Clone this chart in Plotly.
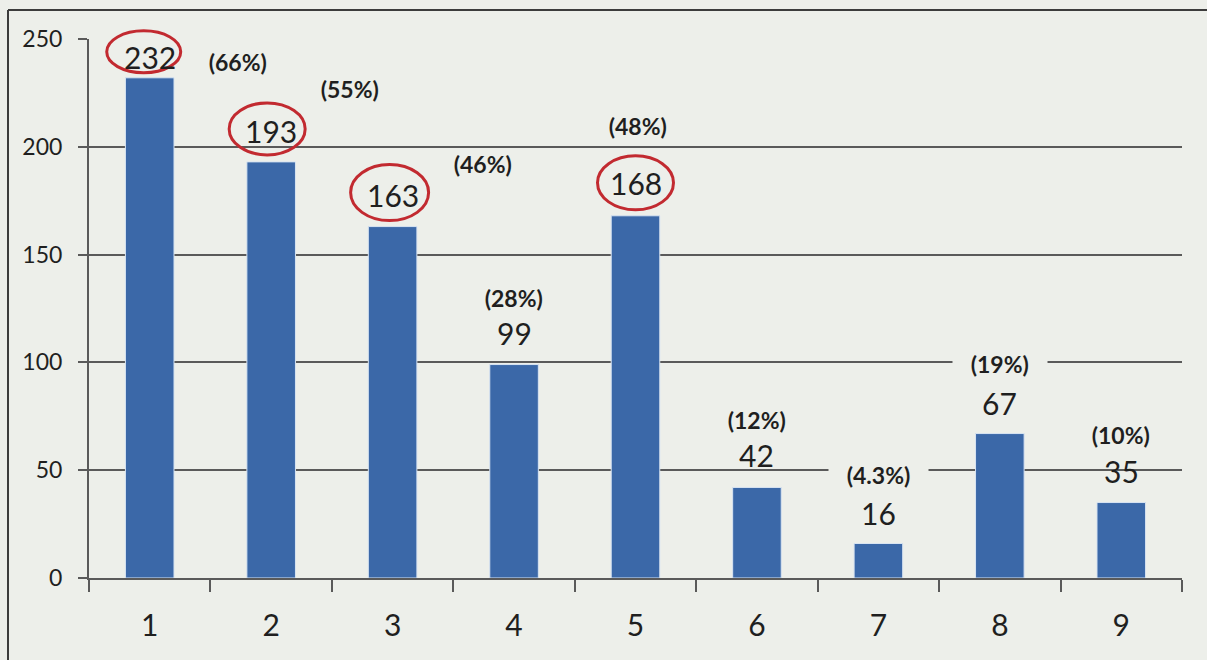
import plotly.graph_objects as go

# Survey counts per item, with the share of respondents in brackets
categories = [1, 2, 3, 4, 5, 6, 7, 8, 9]
counts = [232, 193, 163, 99, 168, 42, 16, 67, 35]
shares = ["(66%)", "(55%)", "(46%)", "(28%)", "(48%)", "(12%)", "(4.3%)", "(19%)", "(10%)"]
highlighted = [1, 2, 3, 5]
y_ticks = [0, 50, 100, 150, 200, 250]
x_range = [0.5, 9.5]
y_range = [0, 250]

# label placement (pixel offsets from the top of each bar)
value_dy = [21, 31, 32, 32, 33, 32, 31, 31, 32]
share_dx = [88, 79, 90, 0, 2, 0, 0, 0, 0]
share_dy = [16, 73, 63, 67, 90, 67, 69, 70, 68]
ring = {1: (-6, 26, 74, 42), 2: (-4, 33, 76, 52), 3: (-3, 34, 78, 56), 5: (0, 33, 76, 54)}

W, H = 1207, 660
ML, MR, MT, MB = 89, 25, 39, 82
BG = "#edefea"
INK = "#1f1f1f"
GRID = "#5a5a5a"
FONT = "Lato, 'Open Sans', sans-serif"
PAD = "&nbsp;" * 3

fig = go.Figure(
    go.Bar(
        x=categories,
        y=counts,
        width=0.4,
        marker=dict(color="#3b68a8", line=dict(color="#d8e4f2", width=1)),
        hoverinfo="skip",
    )
)

annotations = []
for i, (c, v, s) in enumerate(zip(categories, counts, shares)):
    annotations.append(dict(
        x=c, y=v, xref="x", yref="y", text=str(v), showarrow=False,
        yshift=value_dy[i], yanchor="middle",
        font=dict(size=30, color=INK, family=FONT),
    ))
    # share labels sit on a background-coloured box that interrupts gridlines
    annotations.append(dict(
        x=c, y=v, xref="x", yref="y", text=f"{PAD}<b>{s}</b>{PAD}", showarrow=False,
        xshift=share_dx[i], yshift=share_dy[i], yanchor="middle",
        font=dict(size=23, color=INK, family=FONT),
        bgcolor=BG, borderpad=0,
    ))


def to_paper_x(c):
    return (c - x_range[0]) / (x_range[1] - x_range[0])


def to_paper_y(v):
    return (v - y_range[0]) / (y_range[1] - y_range[0])


# red rings around the leading counts (paper-referenced so they are not clipped)
shapes = []
for c in highlighted:
    dx, dy, w, h = ring[c]
    v = counts[categories.index(c)]
    shapes.append(dict(
        type="circle", xref="paper", yref="paper",
        xsizemode="pixel", ysizemode="pixel",
        xanchor=to_paper_x(c), yanchor=to_paper_y(v),
        x0=dx - w / 2, x1=dx + w / 2, y0=dy - h / 2, y1=dy + h / 2,
        line=dict(color="#c22a30", width=3),
    ))

# outer frame around the whole chart
pw = W - ML - MR
ph = H - MT - MB
fx = (8 - ML) / pw
fy_top = 1 + (MT - 10) / ph
fy_bot = -(MB + 5) / ph
shapes.append(dict(type="line", xref="paper", yref="paper",
                   x0=fx, x1=fx, y0=fy_bot, y1=fy_top,
                   line=dict(color="#3c3c3c", width=2)))
shapes.append(dict(type="line", xref="paper", yref="paper",
                   x0=fx, x1=1 + (MR + 5) / pw, y0=fy_top, y1=fy_top,
                   line=dict(color="#3c3c3c", width=2)))

fig.update_layout(
    width=W, height=H,
    margin=dict(l=ML, r=MR, t=MT, b=MB),
    paper_bgcolor=BG, plot_bgcolor=BG,
    showlegend=False,
    annotations=annotations,
    shapes=shapes,
    font=dict(family=FONT, color=INK),
    xaxis=dict(
        range=x_range,
        tickvals=categories,
        ticktext=[str(c) for c in categories],
        ticks="",
        tickfont=dict(size=30, color=INK, family=FONT),
        ticklabelstandoff=20,
        showgrid=False,
        zeroline=False,
        showline=True, linecolor=GRID, linewidth=2,
        minor=dict(
            tickvals=[c - 0.5 for c in categories] + [categories[-1] + 0.5],
            ticks="outside", ticklen=12, tickwidth=2, tickcolor=GRID,
            showgrid=False,
        ),
        fixedrange=True,
    ),
    yaxis=dict(
        range=y_range,
        tickvals=y_ticks,
        ticks="outside", ticklen=9, tickwidth=2, tickcolor=GRID,
        tickfont=dict(size=23, color=INK, family=FONT),
        ticklabelstandoff=11,
        showgrid=True, gridcolor=GRID, gridwidth=2,
        zeroline=False,
        showline=True, linecolor=GRID, linewidth=2,
        fixedrange=True,
    ),
)

fig.write_html("out.html")
